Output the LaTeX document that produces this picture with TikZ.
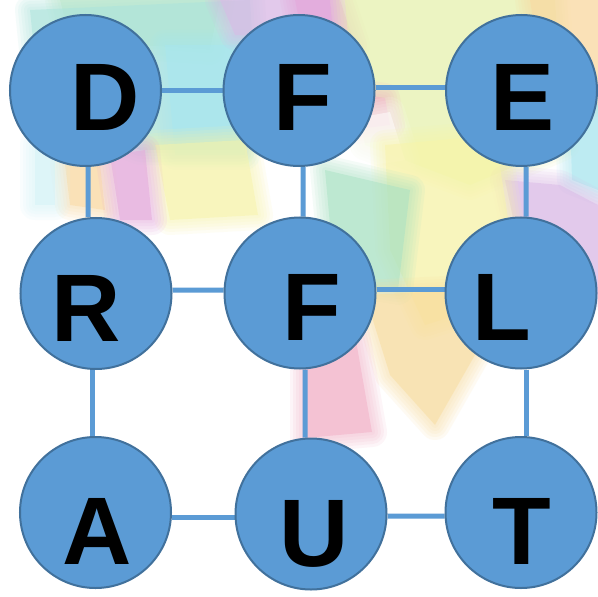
\documentclass[tikz,border=0pt]{standalone}
\usepackage{fontspec}
\setmainfont{Liberation Sans}
\pgfdeclarelayer{bg}
\pgfdeclarelayer{links}
\pgfsetlayers{bg,links,main}
\definecolor{bub}{HTML}{5B9BD5}
\definecolor{bubedge}{HTML}{41719C}
\definecolor{pteal}{HTML}{A9E4DC}
\definecolor{pcyan}{HTML}{A8E6F0}
\definecolor{pgreen}{HTML}{C8EAC4}
\definecolor{ppurple}{HTML}{DAB8E6}
\definecolor{pmagenta}{HTML}{E4A6DA}
\definecolor{pyelgreen}{HTML}{E8F2AE}
\definecolor{porange}{HTML}{FAD9A0}
\definecolor{ppink}{HTML}{F2AEC6}
\definecolor{pmint}{HTML}{A8E2C4}
\definecolor{pyellow}{HTML}{F8F4A8}
\definecolor{ppeach}{HTML}{F8DC9C}
\newcommand\softpatch[2]{%
  \foreach \w in {30,24,18,12,6}{%
    \begin{scope}[transparency group, opacity=0.12]\filldraw[#1, line width=\w bp, line join=round] #2;\end{scope}}
  \fill[#1, opacity=0.5] #2;}
\tikzset{
  bubble/.style={circle, draw=bubedge, fill=bub, line width=2bp, minimum size=151bp, inner sep=0pt},
  link/.style={draw=bub, line width=5bp},
  letter/.style={font=\fontsize{96bp}{96bp}\selectfont\bfseries, anchor=base, inner sep=0pt, text=black}
}
\begin{document}
\begin{tikzpicture}[x=1bp, y=-1bp]
\useasboundingbox (0,0) rectangle (598,597);
% circles
\node[bubble] (D)  at (85.5,90.5) {};
\node[bubble] (F1) at (299,90.5) {};
\node[bubble] (E)  at (521.5,90.5) {};
\node[bubble] (R)  at (96,293.5) {};
\node[bubble] (F2) at (300,293) {};
\node[bubble] (L)  at (521,293) {};
\node[bubble] (A)  at (95.5,512.5) {};
\node[bubble] (U)  at (311,514) {};
\node[bubble] (T)  at (521,512.5) {};
% letters
\node[letter] (lD)  at (105.5,131) {D};
\node[letter] (lF1) at (302.5,131) {F};
\node[letter] (lE)  at (523,131) {E};
\node[letter] (lR)  at (86,341) {R};
\node[letter] (lF2) at (312,340) {F};
\node[letter] (lL)  at (502,340) {L};
\node[letter] (lA)  at (97.5,564) {A};
\node[letter] (lU)  at (314,566) {U};
\node[letter] (lT)  at (521.5,564) {T};
% links
\begin{pgfonlayer}{links}
\draw[link] ([yshift=0bp]D.east) -- ([yshift=0bp]F1.west);
\draw[link] ([yshift=2.5bp]F1.east) -- ([yshift=2.5bp]E.west);
\draw[link] ([yshift=3.5bp]R.east) -- ([yshift=3bp]F2.west);
\draw[link] ([yshift=4bp]F2.east) -- ([yshift=4bp]L.west);
\draw[link] ([yshift=-4.5bp]A.east) -- ([yshift=-3bp]U.west);
\draw[link] ([yshift=-2bp]U.east) -- ([yshift=-3.5bp]T.west);
\draw[link] ([xshift=2.5bp]D.south) -- ([xshift=-8bp]R.north);
\draw[link] ([xshift=4bp]F1.south) -- ([xshift=3bp]F2.north);
\draw[link] ([xshift=4.5bp]E.south) -- ([xshift=5bp]L.north);
\draw[link] ([xshift=-4bp]R.south) -- ([xshift=-3.5bp]A.north);
\draw[link] ([xshift=5bp]F2.south) -- ([xshift=-6bp]U.north);
\draw[link] ([xshift=5bp]L.south) -- ([xshift=5bp]T.north);
\end{pgfonlayer}
% background collage
\begin{pgfonlayer}{bg}
\fill[white] (0,0) rectangle (598,597);
\softpatch{pgreen}{(60,0) -- (220,0) -- (210,50) -- (70,40) -- cycle}
\softpatch{pteal}{(30,10) -- (250,0) -- (255,80) -- (240,150) -- (140,150) -- (40,110) -- cycle}
\softpatch{pcyan}{(165,45) -- (245,45) -- (245,155) -- (175,155) -- cycle}
\softpatch{ppurple}{(220,0) -- (330,0) -- (335,40) -- (235,35) -- cycle}
\softpatch{pmagenta}{(295,0) -- (340,0) -- (355,45) -- (305,50) -- cycle}
\softpatch{pyelgreen}{(345,0) -- (555,0) -- (565,145) -- (470,185) -- (365,145) -- (350,60) -- cycle}
\softpatch{porange}{(530,0) -- (598,0) -- (598,105) -- (545,95) -- cycle}
\softpatch{pcyan}{(570,115) -- (598,105) -- (598,190) -- (572,180) -- cycle}
\softpatch{ppurple}{(505,180) -- (560,185) -- (598,205) -- (598,295) -- (525,275) -- cycle}
\softpatch{ppink}{(335,90) -- (385,98) -- (390,125) -- (350,130) -- cycle}
\softpatch{white}{(345,120) -- (390,112) -- (405,160) -- (355,168) -- cycle}
\softpatch{pyellow}{(385,145) -- (495,135) -- (520,295) -- (425,325) -- (390,250) -- cycle}
\softpatch{pmint}{(325,170) -- (410,190) -- (398,290) -- (335,280) -- cycle}
\softpatch{ppeach}{(365,295) -- (465,290) -- (475,355) -- (435,425) -- (390,375) -- cycle}
\softpatch{ppink}{(305,335) -- (355,335) -- (372,432) -- (305,438) -- cycle}
\softpatch{pyellow}{(155,145) -- (245,140) -- (258,215) -- (170,220) -- cycle}
\softpatch{porange}{(65,165) -- (100,165) -- (105,210) -- (70,205) -- cycle}
\softpatch{pmagenta}{(110,155) -- (145,150) -- (152,220) -- (120,220) -- cycle}
\softpatch{pcyan!50}{(35,145) -- (55,145) -- (55,205) -- (35,205) -- cycle}
\end{pgfonlayer}
\end{tikzpicture}
\end{document}
